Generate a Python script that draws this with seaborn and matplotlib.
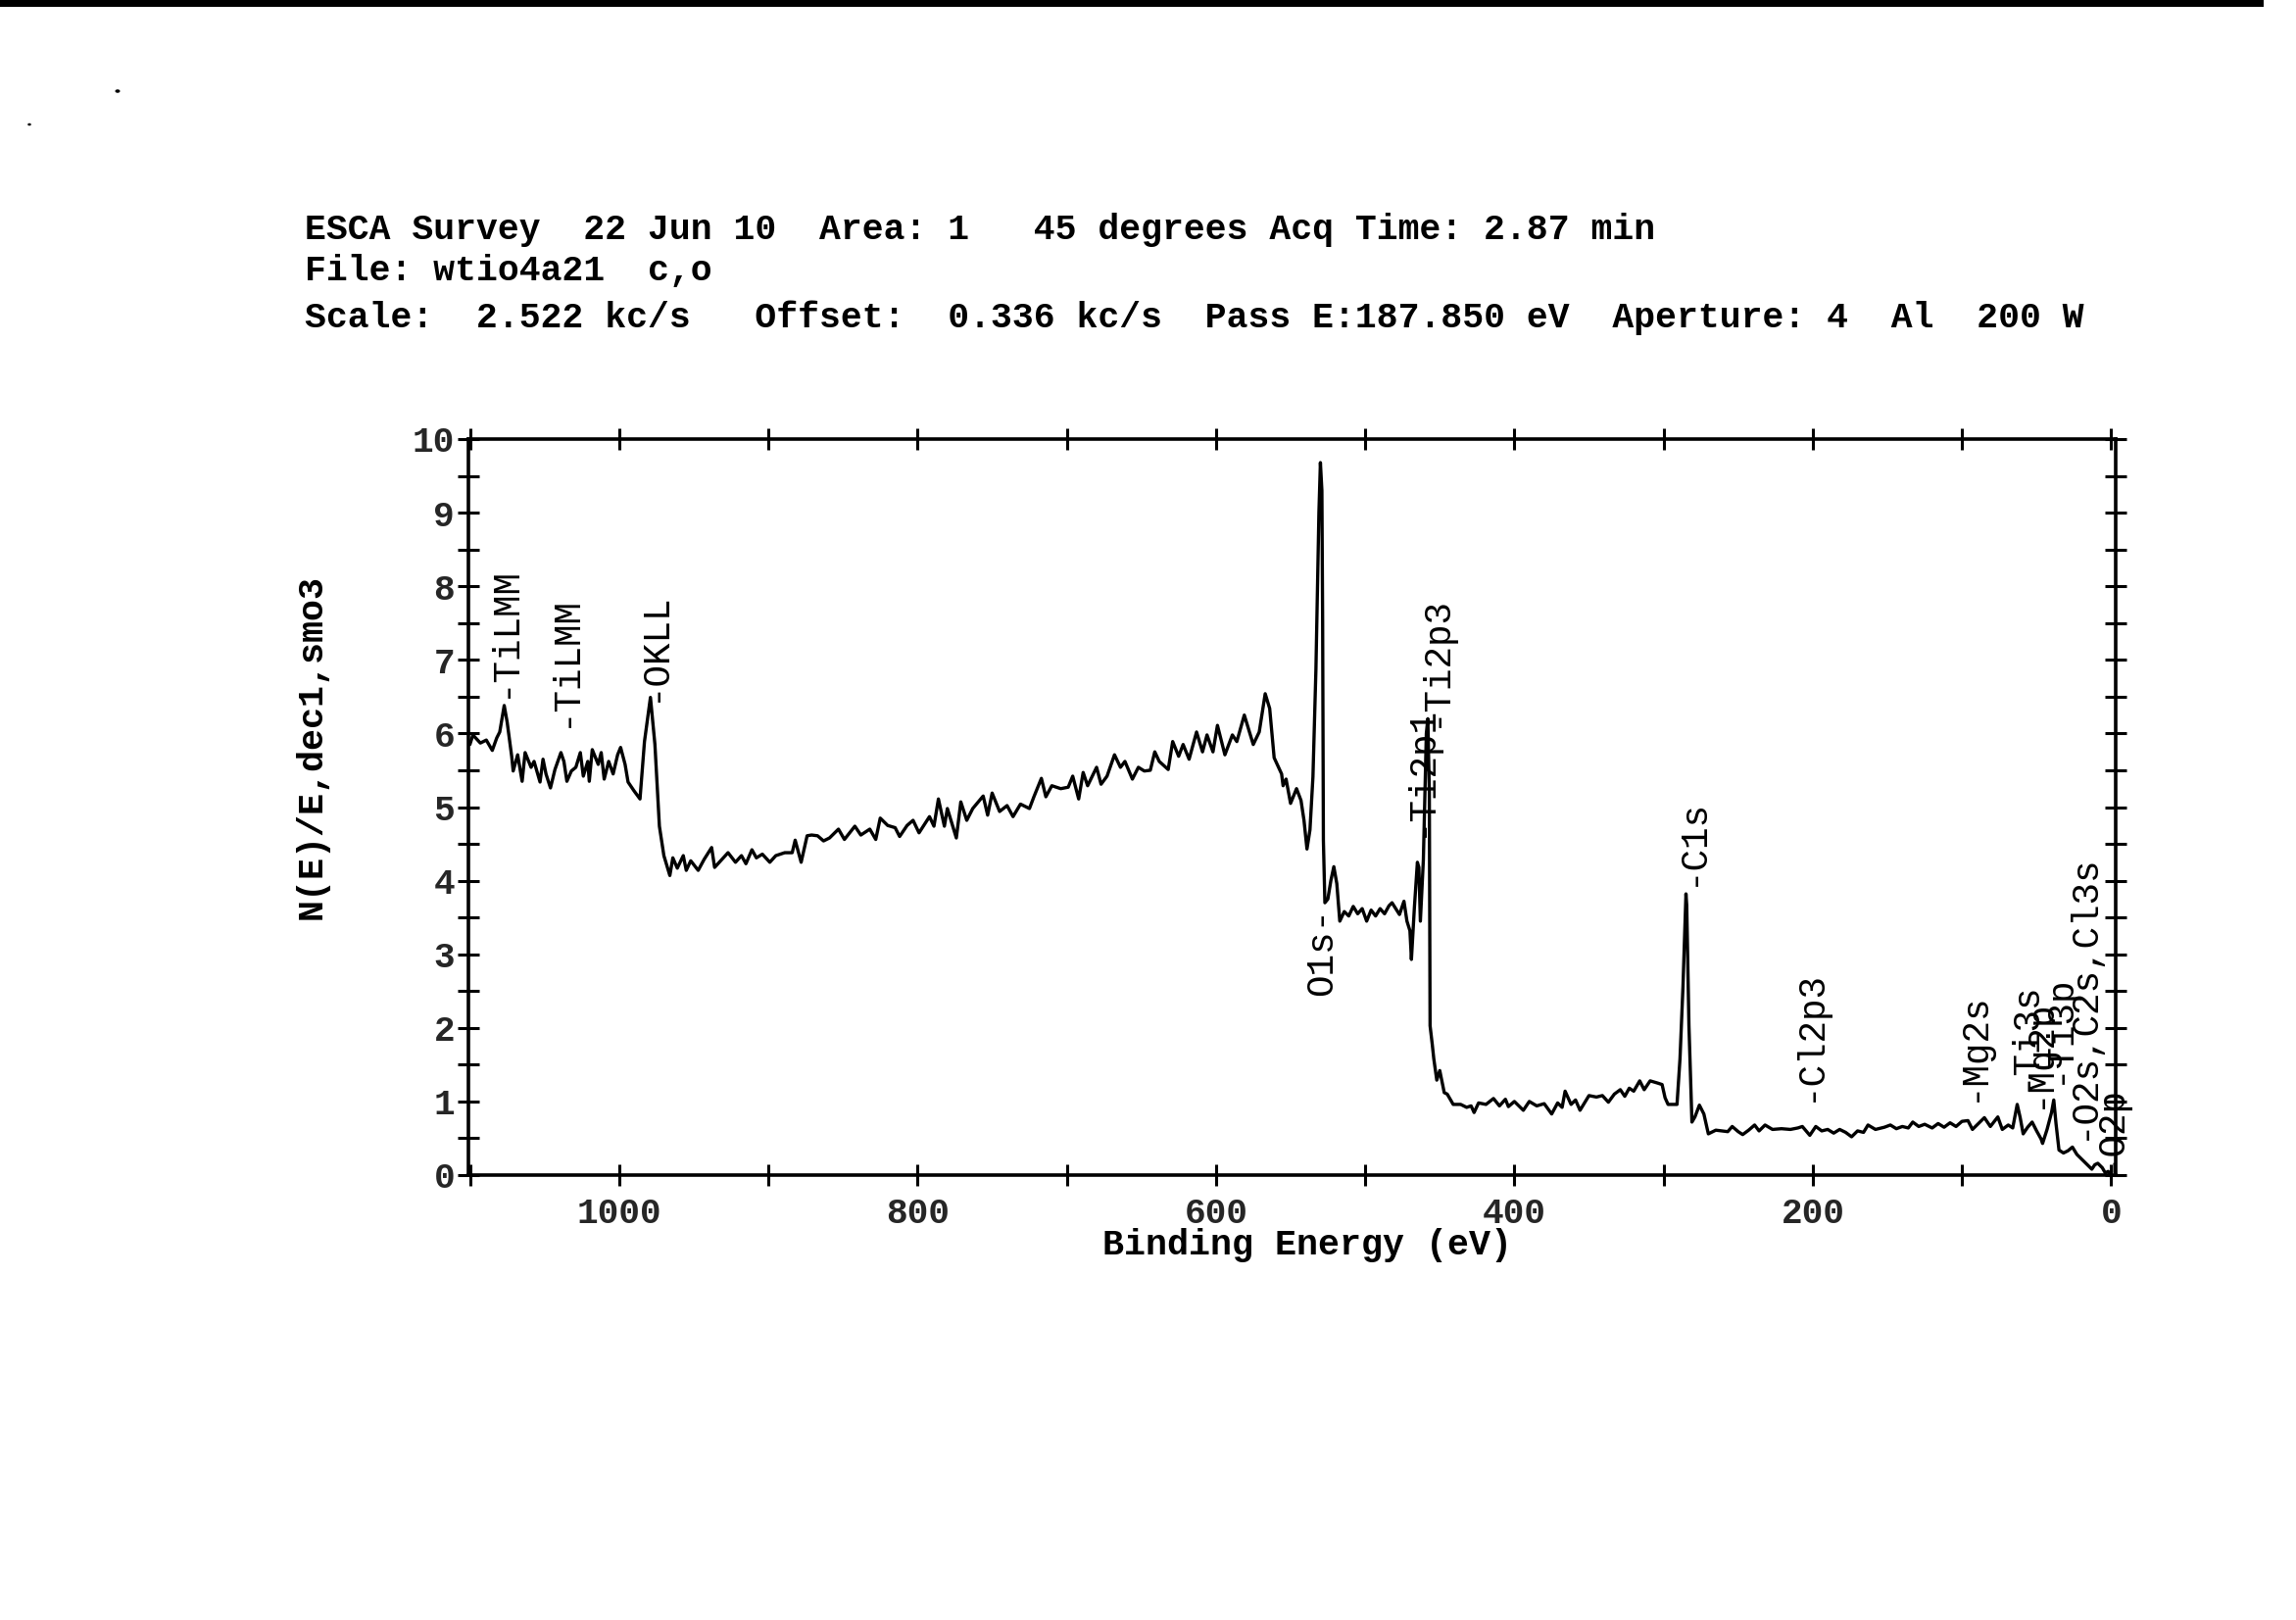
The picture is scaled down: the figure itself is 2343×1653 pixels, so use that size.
import matplotlib
matplotlib.use("Agg")
import matplotlib.pyplot as plt
from matplotlib.ticker import MultipleLocator
from matplotlib.patches import Rectangle, Circle
import seaborn as sns
import pandas as pd

# ---------------- data ----------------
binding_energy = [
    1100, 1098, 1093, 1089, 1085, 1082, 1080, 1077, 1075, 1072, 1071, 1068, 1065, 1063, 1059, 1057,
    1053, 1051, 1049, 1046, 1043, 1039, 1037, 1035, 1032, 1029, 1026, 1024, 1021, 1020, 1018, 1014,
    1012, 1010, 1007, 1004, 1001, 999, 996, 994, 990, 986, 983, 979, 976, 973, 970, 966, 964, 961,
    957, 955, 952, 947, 943, 938, 936, 931, 927, 922, 918, 915, 911, 908, 904, 899, 895, 889, 884,
    882, 878, 874, 871, 867, 863, 859, 853, 849, 842, 838, 832, 828, 825, 820, 815, 812, 807, 803,
    799, 792, 789, 786, 782, 780, 774, 771, 767, 763, 756, 753, 750, 745, 740, 736, 731, 725, 722,
    717, 714, 710, 704, 699, 696, 692, 689, 686, 680, 677, 673, 668, 664, 661, 656, 652, 648, 644,
    641, 638, 632, 629, 625, 622, 618, 613, 609, 606, 602, 599, 594, 589, 586, 581, 575, 571, 567,
    564, 561, 556, 555, 553, 550, 546, 543, 541, 539, 537, 535, 533, 531, 530, 529, 528.5, 528,
    527, 525, 523, 521, 519, 517, 514, 511, 508, 505, 502, 499, 496, 493, 490, 487, 484, 482, 477,
    474, 472, 470, 469, 467, 465, 464, 463, 461, 459, 458, 457, 456.5, 455, 454, 452, 450, 447,
    445, 441, 436, 432, 429, 427, 424, 419, 414, 410, 406, 404, 400, 394, 390, 385, 380, 375, 371,
    368, 366, 362, 359, 356, 350, 345, 341, 337, 333, 329, 326, 323, 320, 316, 313, 309, 304, 301,
    299, 297, 291, 289, 287, 285, 284.5, 283, 281, 279, 276, 273, 270, 265, 261, 257, 254, 250,
    247, 243, 239, 236, 232, 227, 221, 215, 210, 207, 202, 198, 194, 190, 186, 182, 178, 174, 170,
    166, 163, 158, 152, 148, 144, 140, 136, 133, 129, 125, 120, 116, 112, 108, 104, 100, 96, 93,
    89, 85, 81, 76, 73, 69, 66, 63, 61, 59, 56, 53, 50, 47, 46, 43, 40, 38.5, 37, 35, 32, 29, 26,
    23, 20, 17, 13, 11, 9, 6, 4, 2, 0.5,
]
intensity = [
    5.85, 5.98, 5.87, 5.91, 5.77, 5.94, 6.02, 6.38, 6.15, 5.69, 5.49, 5.71, 5.35, 5.74, 5.54, 5.62,
    5.34, 5.65, 5.45, 5.26, 5.51, 5.74, 5.62, 5.35, 5.49, 5.54, 5.74, 5.42, 5.62, 5.35, 5.78, 5.58,
    5.74, 5.38, 5.62, 5.45, 5.71, 5.81, 5.58, 5.34, 5.22, 5.11, 5.89, 6.49, 5.85, 4.74, 4.34, 4.07, 4.31, 4.17,
    4.34, 4.14, 4.27, 4.14, 4.29, 4.45, 4.18, 4.29, 4.38, 4.25, 4.34, 4.23, 4.42, 4.31, 4.36, 4.25, 4.34, 4.38, 4.38,
    4.55, 4.25, 4.61, 4.62, 4.61, 4.54, 4.58, 4.70, 4.56, 4.74, 4.62, 4.70, 4.56, 4.85, 4.75, 4.72, 4.60, 4.75, 4.82,
    4.65, 4.87, 4.74, 5.11, 4.74, 4.98, 4.58, 5.07, 4.82, 4.98, 5.15, 4.89, 5.19, 4.94, 5.02, 4.87, 5.04, 4.98, 5.14,
    5.39, 5.14, 5.29, 5.25, 5.27, 5.42, 5.11, 5.47, 5.29, 5.54, 5.31, 5.42, 5.71, 5.54, 5.62, 5.38, 5.54, 5.49, 5.50,
    5.75, 5.62, 5.51, 5.89, 5.69, 5.85, 5.65, 6.02, 5.75, 5.98, 5.75, 6.11, 5.71, 5.98, 5.89, 6.25, 5.85, 6.02, 6.54,
    6.34, 5.67, 5.45, 5.29, 5.38, 5.05, 5.25, 5.09, 4.82, 4.43, 4.69, 5.41, 6.87, 9.00, 9.68, 9.30, 7.52, 4.55,
    3.70, 3.75, 4.00, 4.19, 3.96, 3.45, 3.58, 3.52, 3.65, 3.55, 3.62, 3.45, 3.60, 3.52, 3.62, 3.55, 3.66, 3.70, 3.54,
    3.72, 3.45, 3.32, 2.93, 3.64, 4.25, 4.18, 3.45, 4.28, 6.00, 6.20, 5.20, 2.03, 1.77, 1.58, 1.29, 1.42, 1.12,
    1.10, 0.96, 0.96, 0.92, 0.94, 0.85, 0.98, 0.96, 1.04, 0.94, 1.03, 0.93, 1.00, 0.88, 1.00, 0.94, 0.97, 0.83, 0.98,
    0.92, 1.14, 0.96, 1.02, 0.88, 1.08, 1.06, 1.08, 0.99, 1.10, 1.16, 1.07, 1.18, 1.14, 1.28, 1.16, 1.28, 1.25, 1.23,
    1.05, 0.96, 0.96, 1.58, 2.56, 3.82, 3.67, 2.03, 0.72, 0.79, 0.95, 0.83, 0.56, 0.61, 0.60, 0.59, 0.66, 0.59,
    0.55, 0.61, 0.68, 0.60, 0.68, 0.62, 0.63, 0.62, 0.64, 0.66, 0.54, 0.66, 0.60, 0.62, 0.57, 0.62, 0.58, 0.52, 0.60,
    0.58, 0.68, 0.62, 0.65, 0.68, 0.63, 0.66, 0.64, 0.72, 0.66, 0.69, 0.64, 0.70, 0.65, 0.71, 0.66, 0.73, 0.74, 0.62,
    0.70, 0.78, 0.66, 0.79, 0.62, 0.68, 0.64, 0.96, 0.78, 0.56, 0.65, 0.72, 0.60, 0.49, 0.43, 0.62, 0.85, 1.02, 0.70, 0.34, 0.30, 0.33, 0.38,
    0.28, 0.22, 0.16, 0.08, 0.14, 0.16, 0.10, 0.03, 0.05, 0.00,
]

peak_labels = ["-TiLMM", "-TiLMM", "-OKLL", "O1s-", "-Ti2p1", "-Ti2p3", "-C1s", "-Cl2p3",
               "-Mg2s", "-Ti3s", "-Mg2p", "-Ti3p", "-O2s,C2s,Cl3s", "-O2p"]
peak_label_be = [1077, 1036, 976, 529, 463, 453, 281, 202, 92.6, 58, 48, 35, 19, 1.3]
peak_label_y = [6.49, 6.09, 6.43, 3.63, 4.59, 6.09, 3.93, 1.0, 1.0, 1.14, 0.9, 1.24, 0.48, 0.04]

x_ticks = [1000, 800, 600, 400, 200, 0]
y_ticks = [0, 1, 2, 3, 4, 5, 6, 7, 8, 9, 10]

header_lines = [
    "ESCA Survey  22 Jun 10  Area: 1   45 degrees Acq Time: 2.87 min",
    "File: wtio4a21  c,o",
    "Scale:  2.522 kc/s   Offset:  0.336 kc/s  Pass E:187.850 eV  Aperture: 4  Al  200 W",
]
x_label = "Binding Energy (eV)"
y_label = "N(E)/E,dec1,smo3"

# ---------------- drawing ----------------
sns.set_theme(style="ticks")
MONO = ["Liberation Mono", "DejaVu Sans Mono"]
plt.rcParams["font.family"] = MONO

W, H = 2343, 1653
fig = plt.figure(figsize=(W / 200, H / 200), dpi=200, facecolor="white")
ax = fig.add_axes([478 / W, 1 - 1199 / H, (2159 - 478) / W, (1199 - 448) / H])
ax.set_facecolor("white")

df = pd.DataFrame({"be": binding_energy, "counts": intensity})
sns.lineplot(data=df, x="be", y="counts", ax=ax, color="black", linewidth=1.2,
             sort=False, estimator=None, legend=False)

ax.set_xlim(1101, -3)
ax.set_ylim(0, 10)
ax.set_xlabel("")
ax.set_ylabel("")

ax.set_xticks(x_ticks)
ax.set_xticklabels([str(t) for t in x_ticks])
ax.xaxis.set_minor_locator(MultipleLocator(100))
ax.set_yticks(y_ticks)
ax.set_yticklabels([str(t) for t in y_ticks])
ax.yaxis.set_minor_locator(MultipleLocator(0.5))

for s in ax.spines.values():
    s.set_visible(True)
    s.set_linewidth(1.3)
    s.set_color("black")

ax.tick_params(axis="both", which="both", direction="inout", length=8, width=1.1,
               color="black", top=True, right=True, bottom=True, left=True)
ax.tick_params(axis="x", which="major", pad=4, labelsize=13)
ax.tick_params(axis="y", which="major", pad=1, labelsize=13)
for lab in ax.get_xticklabels() + ax.get_yticklabels():
    lab.set_fontweight("bold")
    lab.set_family(MONO)

# peak labels
for name, be, yv in zip(peak_labels, peak_label_be, peak_label_y):
    va = "top" if name.endswith("-") else "bottom"
    ax.text(be, yv, name, rotation=90, ha="center", va=va, fontsize=13.5,
            family=MONO, color="black")

# axis titles
fig.text(893 / 1568, 1 - 850 / 1106, x_label, ha="center", va="center",
         fontsize=13.2, family=MONO, fontweight="bold", color="black")
fig.text(213 / 1568, 1 - 510 / 1106, y_label, rotation=90, ha="center", va="center",
         fontsize=13.2, family=MONO, fontweight="bold", color="black")

# header block
for line, yc in zip(header_lines, [157, 185, 217]):
    fig.text(208 / 1568, 1 - yc / 1106, line, ha="left", va="center",
             fontsize=13.1, family=MONO, fontweight="bold", color="black")

# scan artefacts: top border bar and specks
fig.add_artist(Rectangle((0, 1 - 7 / H), 2310 / W, 7 / H, transform=fig.transFigure,
                         facecolor="black", edgecolor="none"))
fig.add_artist(Circle((120 / W, 1 - 93 / H), 2.5 / W, transform=fig.transFigure,
                      facecolor="black", edgecolor="none"))
fig.add_artist(Circle((30 / W, 1 - 127 / H), 1.8 / W, transform=fig.transFigure,
                      facecolor="black", edgecolor="none"))

fig.savefig("out.png", dpi=200, facecolor="white")
